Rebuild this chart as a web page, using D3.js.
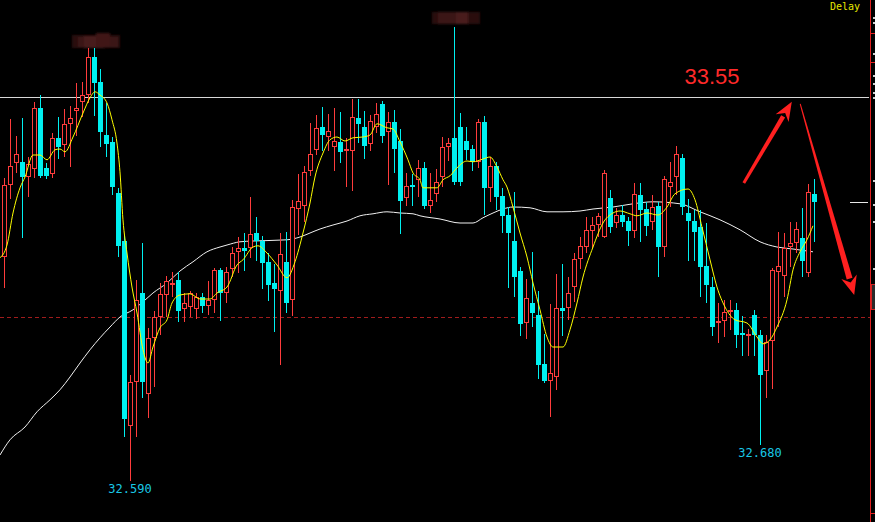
<!DOCTYPE html>
<html><head><meta charset="utf-8">
<script src="https://cdn.jsdelivr.net/npm/d3@7"></script>
<style>html,body{margin:0;padding:0;background:#000;overflow:hidden}svg{display:block}</style>
</head><body><svg id="c" width="875" height="522"></svg>
<script>
const opens = [33.150,33.330,33.385,33.388,33.350,33.370,33.523,33.373,33.358,33.448,33.430,33.483,33.515,33.538,33.555,33.650,33.588,33.455,33.438,33.310,
33.190,32.728,32.838,33.060,32.808,32.948,33.000,33.055,33.080,33.093,33.020,33.025,33.020,33.050,33.028,33.043,33.118,33.060,33.120,33.163,
33.173,33.173,33.210,33.190,33.138,33.085,33.065,33.138,33.043,33.270,33.278,33.365,33.418,33.475,33.450,33.425,33.438,33.415,33.415,33.498,
33.475,33.433,33.475,33.533,33.463,33.488,33.440,33.298,33.330,33.343,33.373,33.278,33.308,33.350,33.425,33.448,33.475,33.440,33.420,33.388,
33.488,33.323,33.378,33.303,33.255,33.190,33.115,32.985,33.035,33.005,32.883,32.840,32.850,33.023,33.023,33.075,33.145,33.175,33.215,33.230,
33.200,33.298,33.235,33.255,33.240,33.215,33.305,33.270,33.238,33.278,33.175,33.325,33.350,33.398,33.260,33.240,33.225,33.128,33.075,32.985,
32.990,33.013,33.018,32.960,32.953,33.005,32.955,32.865,32.940,33.113,33.103,33.175,33.185,33.198,33.110,33.308];
const highs = [33.348,33.495,33.453,33.498,33.400,33.538,33.555,33.385,33.460,33.500,33.520,33.528,33.585,33.588,33.673,33.673,33.620,33.535,33.450,33.323,
33.205,32.855,33.093,33.185,32.973,33.015,33.085,33.103,33.113,33.113,33.060,33.065,33.060,33.060,33.090,33.123,33.123,33.125,33.175,33.200,
33.210,33.300,33.250,33.203,33.160,33.133,33.210,33.213,33.293,33.358,33.378,33.485,33.505,33.525,33.508,33.523,33.513,33.448,33.545,33.545,
33.515,33.505,33.535,33.540,33.513,33.518,33.470,33.360,33.358,33.393,33.388,33.360,33.370,33.450,33.448,33.725,33.510,33.475,33.430,33.495,
33.503,33.400,33.388,33.323,33.275,33.313,33.125,33.095,33.163,33.065,32.958,33.033,33.108,33.133,33.100,33.160,33.200,33.250,33.250,33.260,
33.368,33.318,33.273,33.280,33.250,33.335,33.335,33.288,33.305,33.288,33.353,33.388,33.428,33.408,33.295,33.268,33.268,33.235,33.100,33.035,
33.043,33.043,33.035,33.003,32.970,33.018,32.968,32.955,33.123,33.213,33.210,33.238,33.238,33.273,33.333,33.345];
const lows = [33.073,33.295,33.360,33.198,33.300,33.348,33.348,33.345,33.348,33.395,33.400,33.375,33.453,33.500,33.535,33.503,33.425,33.400,33.305,33.150,
32.700,32.590,32.700,32.798,32.748,32.825,32.955,33.000,33.050,32.988,32.988,33.000,32.995,33.010,33.005,33.010,32.990,33.035,33.100,33.110,
33.115,33.148,33.140,33.070,33.040,32.963,32.880,33.010,33.003,33.205,33.238,33.353,33.405,33.415,33.415,33.365,33.385,33.325,33.315,33.435,
33.395,33.415,33.460,33.435,33.330,33.360,33.208,33.278,33.278,33.300,33.270,33.260,33.288,33.325,33.390,33.330,33.328,33.393,33.365,33.373,
33.255,33.288,33.268,33.210,33.073,33.050,32.953,32.945,32.975,32.845,32.835,32.750,32.818,32.953,32.993,33.038,33.120,33.160,33.173,33.200,
33.198,33.210,33.223,33.225,33.178,33.198,33.188,33.203,33.218,33.100,33.150,33.275,33.305,33.255,33.140,33.140,33.050,33.035,32.953,32.935,
32.950,32.968,32.923,32.903,32.903,32.903,32.680,32.798,32.820,32.975,33.050,33.125,33.160,33.100,33.100,33.188];
const closes = [33.330,33.378,33.408,33.350,33.383,33.523,33.353,33.353,33.448,33.425,33.483,33.498,33.523,33.555,33.650,33.585,33.463,33.433,33.325,33.178,
32.745,32.838,33.043,32.838,32.948,33.000,33.058,33.090,33.085,33.015,33.035,33.060,33.050,33.028,33.043,33.118,33.060,33.113,33.160,33.173,
33.165,33.208,33.190,33.135,33.080,33.070,33.158,33.035,33.275,33.290,33.363,33.408,33.473,33.455,33.465,33.440,33.413,33.420,33.500,33.483,
33.428,33.490,33.508,33.453,33.488,33.420,33.290,33.328,33.325,33.373,33.278,33.293,33.338,33.425,33.435,33.338,33.338,33.418,33.388,33.488,
33.323,33.378,33.300,33.253,33.210,33.100,32.983,33.048,33.010,32.880,32.840,32.860,33.023,33.015,33.060,33.145,33.178,33.218,33.230,33.253,
33.360,33.225,33.255,33.238,33.215,33.308,33.268,33.228,33.275,33.175,33.345,33.338,33.408,33.275,33.240,33.213,33.125,33.080,32.975,32.990,
33.013,33.018,32.955,32.955,32.958,32.955,32.855,32.938,33.118,33.128,33.173,33.185,33.220,33.140,33.313,33.288];

// moving averages: [candle index, value]
const maFast = [[-0.67,33.148],[0.5,33.180],[1.5,33.260],[2.67,33.323],[3.5,33.350],[4.83,33.405],[6,33.405],[7.17,33.393],[8.5,33.418],[9.33,33.420],
[10.17,33.413],[11.5,33.450],[13.17,33.510],[14.33,33.548],[15.17,33.563],[16,33.555],[17.17,33.535],[18,33.493],[18.83,33.435],[19.33,33.363],
[19.83,33.243],[20.5,33.160],[21.33,33.075],[22.17,33.010],[23.17,32.918],[24,32.885],[24.83,32.925],[26,32.973],[27.17,32.993],[28,33.035],
[29.33,33.055],[31,33.058],[32.67,33.045],[34.33,33.045],[35.5,33.060],[37.17,33.075],[38.83,33.130],[39.83,33.143],[41.5,33.175],[42.33,33.178],
[43.83,33.160],[45.5,33.130],[47.17,33.098],[48.5,33.138],[49.83,33.210],[51,33.285],[51.83,33.350],[53.17,33.410],[54.33,33.443],[55.5,33.450],
[56.83,33.440],[58.17,33.448],[59.83,33.450],[61,33.455],[62.17,33.483],[63.83,33.473],[64.83,33.470],[66,33.438],[67.33,33.393],[68.17,33.360],
[69.33,33.343],[69.83,33.323],[72.17,33.323],[73.17,33.343],[74.33,33.353],[75.5,33.373],[77.17,33.390],[78.17,33.388],[79.83,33.395],[81,33.400],
[82.17,33.375],[83.17,33.343],[83.83,33.325],[84.83,33.275],[86,33.210],[87.17,33.150],[88.17,33.085],[89.33,33.018],[90.5,32.950],[91.5,32.925],
[93.17,32.925],[94.33,32.968],[95.5,33.035],[96.5,33.100],[98.17,33.175],[99.83,33.235],[101.5,33.260],[102.67,33.265],[104.33,33.258],[105.5,33.253],
[107.17,33.260],[109,33.255],[110.5,33.275],[111.83,33.308],[114,33.320],[115.17,33.293],[116.33,33.225],[117.67,33.143],[118.83,33.075],[120.17,33.025],
[121.83,32.993],[123.83,32.985],[125.5,32.950],[126.5,32.933],[127.67,32.943],[128.83,32.975],[130.5,33.043],[131.5,33.118],[132.67,33.163],[133.83,33.193],
[134.83,33.228]];
const maSlow = [[-0.67,32.655],[1,32.693],[3.5,32.725],[5.5,32.763],[7.67,32.793],[9.33,32.818],[11,32.850],[12.67,32.885],[14.33,32.918],[16,32.948],
[17.67,32.975],[19.33,33.000],[21.5,33.018],[23.17,33.038],[24.83,33.060],[27.17,33.085],[29.33,33.115],[31.5,33.138],[33.83,33.163],[36,33.175],
[37.17,33.180],[39.33,33.188],[41.5,33.190],[47.17,33.193],[49.33,33.200],[51,33.210],[52.67,33.220],[54.83,33.230],[57.17,33.240],[59.33,33.253],
[61.5,33.258],[63.83,33.263],[66,33.260],[68.17,33.258],[69.33,33.253],[72.67,33.245],[76,33.235],[78.17,33.235],[79.83,33.248],[81.5,33.260],
[83.17,33.270],[84.83,33.275],[87.67,33.273],[90.5,33.263],[93.17,33.263],[96,33.265],[98.17,33.270],[101.5,33.275],[104.83,33.283],[108.17,33.288],
[112.67,33.283],[116,33.263],[119.33,33.243],[122.67,33.218],[126,33.188],[128.83,33.175],[131.5,33.170],[134.83,33.163]];

const resistance = 33.55;
const resistanceLabel = "33.55";
const prevClose = 33.00;
const lowMarks = [{i:21, v:32.59, text:"32.590"}, {i:126, v:32.68, text:"32.680"}];
// annotation arrows in data coords: [index, price]
const arrowUp = [[123.3,33.335],[131.3,33.538]];
const arrowDown = [[132.7,33.533],[141.7,33.055]];

const W = 875, H = 522;
const svg = d3.select("#c");
svg.append("rect").attr("width",W).attr("height",H).attr("fill","#000");

const x = d3.scaleLinear().domain([0, opens.length-1]).range([4, 814]);
const y = d3.scaleLinear().domain([33.55, 32.59]).range([97, 481]);

const RED = "#ff3c3c", CYAN = "#00f0f0";

// redacted labels (blurred in the source)
const defs = svg.append("defs");
defs.append("filter").attr("id","blur").append("feGaussianBlur").attr("stdDeviation",1.2);
const blobs = svg.append("g").attr("filter","url(#blur)");
[[72,35,48,13,"#2c0d0e"],[78,37,40,10,"#3a1414"],[84,36,20,12,"#461a1a"],[96,33,14,14,"#3f1616"],
 [432,12,48,12,"#2c0d0e"],[438,12,20,12,"#3a1516"],[456,12,12,12,"#4a1a1a"]].forEach(b=>{
  blobs.append("rect").attr("x",b[0]).attr("y",b[1]).attr("width",b[2]).attr("height",b[3]).attr("fill",b[4]);
});

// reference lines
svg.append("line").attr("x1",0).attr("x2",870).attr("y1",Math.round(y(prevClose))+0.5).attr("y2",Math.round(y(prevClose))+0.5)
  .attr("stroke","#a01c1c").attr("stroke-width",1).attr("stroke-dasharray","4,3");
svg.append("line").attr("x1",0).attr("x2",869).attr("y1",Math.round(y(resistance))+0.5).attr("y2",Math.round(y(resistance))+0.5)
  .attr("stroke","#d8d8d8").attr("stroke-width",1.2);

// MA lines
const lineGen = d3.line().x(d=>x(d[0])).y(d=>y(d[1])).curve(d3.curveMonotoneX);
svg.append("path").attr("d",lineGen(maSlow)).attr("fill","none").attr("stroke","#f0f0f0").attr("stroke-width",1);

// candles
const g = svg.append("g");
opens.forEach((o,i)=>{
  const c = closes[i], hi = highs[i], lo = lows[i];
  const cx = Math.round(x(i));
  const up = c >= o;
  const top = Math.round(y(Math.max(o,c))), bot = Math.round(y(Math.min(o,c)));
  const yh = Math.round(y(hi)), yl = Math.round(y(lo));
  if (up) {
    if (yh < top) g.append("line").attr("x1",cx+0.5).attr("x2",cx+0.5).attr("y1",yh).attr("y2",top).attr("stroke",RED);
    if (yl > bot) g.append("line").attr("x1",cx+0.5).attr("x2",cx+0.5).attr("y1",bot).attr("y2",yl).attr("stroke",RED);
    g.append("rect").attr("x",cx-1.5).attr("y",top+0.5).attr("width",4).attr("height",Math.max(bot-top-1,1))
      .attr("fill","#000").attr("stroke",RED).attr("stroke-width",1);
  } else {
    g.append("line").attr("x1",cx+0.5).attr("x2",cx+0.5).attr("y1",yh).attr("y2",yl).attr("stroke",CYAN);
    g.append("rect").attr("x",cx-2).attr("y",top).attr("width",5).attr("height",Math.max(bot-top,2)).attr("fill",CYAN);
  }
});

svg.append("path").attr("d",lineGen(maFast)).attr("fill","none").attr("stroke","#ffff00").attr("stroke-width",1);

// low labels
lowMarks.forEach(m=>{
  svg.append("text").attr("x",x(m.i)).attr("y",y(m.v)+12).attr("text-anchor","middle")
    .attr("font-family","'DejaVu Sans Mono', monospace").attr("font-size",12).attr("fill","#19c8e6").text(m.text);
});

// resistance label
svg.append("text").attr("x",712).attr("y",y(resistance)-13).attr("text-anchor","middle")
  .attr("font-family","'Liberation Sans', Arial, sans-serif").attr("font-size",22).attr("fill","#ff2a2a").text(resistanceLabel);

// arrows
function arrow(pts, w0, w1, hl, hw){
  const [x0,y0] = [x(pts[0][0]), y(pts[0][1])];
  const [x1,y1] = [x(pts[1][0]), y(pts[1][1])];
  const dx = x1-x0, dy = y1-y0, L = Math.hypot(dx,dy), ux = dx/L, uy = dy/L, nx = -uy, ny = ux;
  const bx = x1-ux*hl, by = y1-uy*hl;
  const shaft = [[x0+nx*w0/2,y0+ny*w0/2],[bx+nx*w1/2,by+ny*w1/2],[bx-nx*w1/2,by-ny*w1/2],[x0-nx*w0/2,y0-ny*w0/2]];
  svg.append("polygon").attr("points",shaft.map(p=>p.join(",")).join(" ")).attr("fill","#ff2020");
  const head = [[x1,y1],[bx+nx*hw-ux*2,by+ny*hw-uy*2],[bx+ux*4,by+uy*4],[bx-nx*hw-ux*2,by-ny*hw-uy*2]];
  svg.append("polygon").attr("points",head.map(p=>p.join(",")).join(" ")).attr("fill","#ff2020");
}
arrow(arrowUp, 3, 4.5, 17, 7.5);
arrow(arrowDown, 1, 6, 17, 8);

// right axis area
svg.append("line").attr("x1",870.5).attr("x2",870.5).attr("y1",0).attr("y2",H).attr("stroke","#e02020").attr("stroke-width",1);
[33,62,513].forEach(v=>svg.append("line").attr("x1",870).attr("x2",875).attr("y1",v+0.5).attr("y2",v+0.5).attr("stroke","#e02020"));
svg.append("line").attr("x1",850).attr("x2",868).attr("y1",Math.round(y(closes[closes.length-1]))+0.5).attr("y2",Math.round(y(closes[closes.length-1]))+0.5).attr("stroke","#e8e8e8");
svg.append("rect").attr("x",871.5).attr("y",284.5).attr("width",5).attr("height",25).attr("fill","#2a2a2a").attr("stroke","#d02020");
[17,22,53,75,83,92,97,180,204,221,268].forEach(v=>svg.append("rect").attr("x",873).attr("y",v).attr("width",2).attr("height",2).attr("fill","#cfcfcf"));
svg.append("text").attr("x",845).attr("y",10).attr("text-anchor","middle").attr("font-family","'DejaVu Sans Mono', monospace")
  .attr("font-size",10).attr("fill","#e6e600").text("Delay");
</script></body></html>
